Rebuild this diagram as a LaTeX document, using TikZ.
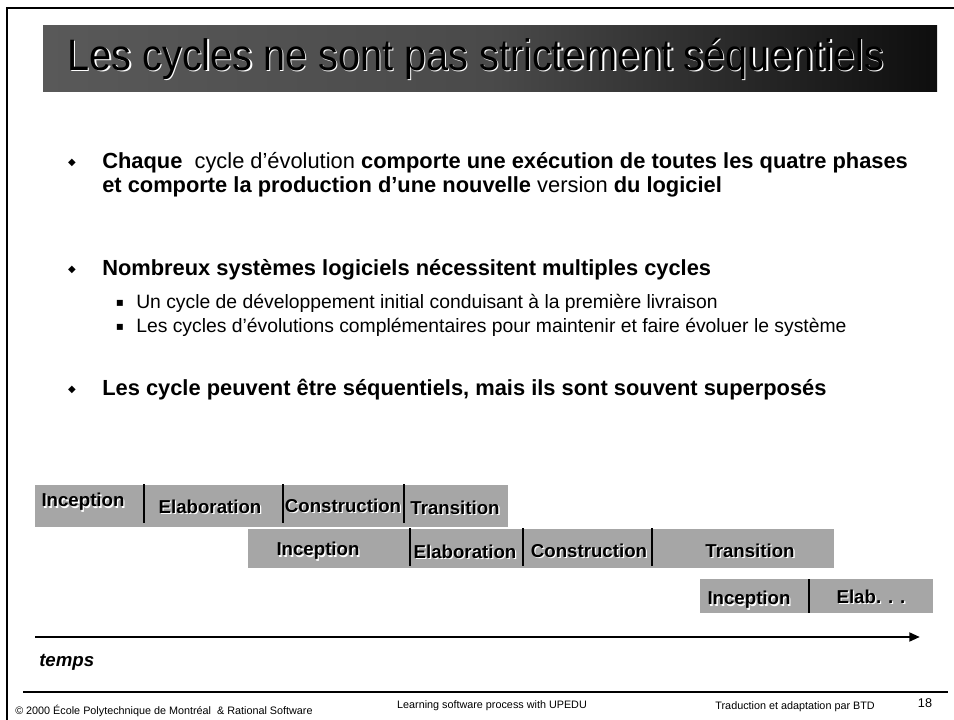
\documentclass[tikz,border=0pt]{standalone}
\usepackage{fontspec}
\setmainfont{Liberation Sans}
\newfontfamily\symfont{DejaVu Sans}
\usetikzlibrary{arrows.meta}

\definecolor{phasegray}{HTML}{A6A6A6}
\definecolor{barlight}{HTML}{595959}
\definecolor{bardark}{HTML}{0E0E0E}

\tikzset{
  bodytext/.style={anchor=west, inner sep=0pt, align=left, font=\fontsize{16.4}{18}\selectfont},
  subtext/.style={anchor=west, inner sep=0pt, font=\fontsize{14.5}{16}\selectfont},
  bulletmark/.style={inner sep=0pt, font=\symfont\fontsize{7.5}{8}\selectfont},
  phase/.style={inner sep=0pt, font=\fontsize{14}{15}\selectfont\bfseries},
  titletext/.style={inner sep=0pt, xscale=0.9, font=\fontsize{33}{34}\selectfont},
  divider/.style={line width=1.6pt},
  footer/.style={inner sep=0pt, font=\fontsize{8.1}{9}\selectfont}
}

% black text with a white shadow below right
\newcommand{\shadowlabel}[4][phase]{%
  \node[#1, text=white] at ([shift={(1.3,1.3)}]#3) {#4};
  \node[#1] (#2) at (#3) {#4};
}

\begin{document}
\begin{tikzpicture}[x=0.75pt,y=0.75pt,yscale=-1,xscale=1]
\useasboundingbox (0,0) rectangle (954,720);

%Shape: Frame
\draw [line width=1.6pt] (7,720) -- (7,8) -- (954,8);

%Shape: Title bar
\shade [left color=barlight, right color=bardark, middle color=barlight!80!bardark] (43,26) rectangle (937,92);
\shadowlabel[titletext]{title}{476,59}{Les cycles ne sont pas strictement séquentiels}

% Bullets
\node[bulletmark] (b1) at (72,163) {◆};
\node[bodytext] (t1) at (102,175) {\textbf{Chaque}\ \ cycle d’évolution \textbf{comporte une exécution de toutes les quatre phases}\\
  \textbf{et comporte la production d’une nouvelle} version \textbf{du logiciel}};
\node[bulletmark] (b2) at (72,270) {◆};
\node[bodytext, font=\fontsize{16.4}{18}\selectfont\bfseries] (t2) at (102,270) {Nombreux systèmes logiciels nécessitent multiples cycles};
\node[bulletmark, font=\symfont\fontsize{9}{9}\selectfont] (s1) at (120,303) {▪};
\node[subtext] (u1) at (136,303) {Un cycle de développement initial conduisant à la première livraison};
\node[bulletmark, font=\symfont\fontsize{9}{9}\selectfont] (s2) at (120,327) {▪};
\node[subtext] (u2) at (136,327) {Les cycles d’évolutions complémentaires pour maintenir et faire évoluer le système};
\node[bulletmark] (b3) at (72,390) {◆};
\node[bodytext, font=\fontsize{16.4}{18}\selectfont\bfseries] (t3) at (102,390) {Les cycle peuvent être séquentiels, mais ils sont souvent superposés};

%Shape: Cycle 1
\fill [phasegray] (35,485) rectangle (508,527);
\draw [divider] (144,484) -- (144,523);
\draw [divider] (283,484) -- (283,523);
\draw [divider] (404,484) -- (404,523);
\shadowlabel{c1inc}{83,502}{Inception}
\shadowlabel{c1ela}{210,507}{Elaboration}
\shadowlabel{c1con}{343,506}{Construction}
\shadowlabel{c1tra}{455,508}{Transition}

%Shape: Cycle 2
\fill [phasegray] (248,529) rectangle (834,568);
\draw [divider] (410,528) -- (410,566);
\draw [divider] (523,528) -- (523,566);
\draw [divider] (652,528) -- (652,566);
\shadowlabel{c2inc}{318,551}{Inception}
\shadowlabel{c2ela}{465,552}{Elaboration}
\shadowlabel{c2con}{589,551}{Construction}
\shadowlabel{c2tra}{750,551}{Transition}

%Shape: Cycle 3
\fill [phasegray] (700,579) rectangle (933,613);
\draw [divider] (809,579) -- (809,613);
\shadowlabel{c3inc}{749,600}{Inception}
\shadowlabel{c3ela}{871,597}{Elab. . .}

% Time axis
\coordinate (tstart) at (35,637);
\coordinate (tend) at (920,637);
\draw [line width=2.2pt, -{Triangle[length=8pt,width=6.5pt]}] (tstart) -- (tend);
\node[anchor=west, inner sep=0pt, font=\fontsize{14}{15}\selectfont\bfseries\itshape] (temps) at (39,662) {temps};

% Footer
\draw [line width=0.8pt] (23,692) -- (948,692);
\node[footer, anchor=west] (copy) at (15,711) {© 2000 École Polytechnique de Montréal\ \ \& Rational Software};
\node[footer] (course) at (492,706) {Learning software process with UPEDU};
\node[footer, anchor=east] (trad) at (875,707) {Traduction et adaptation par BTD};
\node[footer, font=\fontsize{9.5}{10}\selectfont] (page) at (925,703) {18};

\end{tikzpicture}
\end{document}
